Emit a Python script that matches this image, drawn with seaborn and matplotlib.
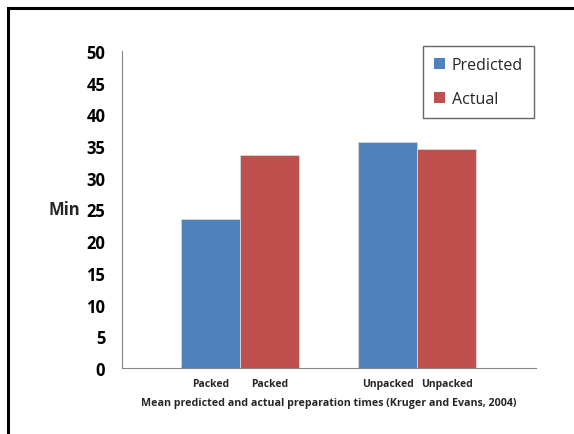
import matplotlib
matplotlib.use("Agg")
import matplotlib.pyplot as plt
import matplotlib.patches as mpatches
from matplotlib.ticker import FixedLocator, NullFormatter
import seaborn as sns
import pandas as pd

# Category slots along the x axis (empty slots leave gaps between groups)
slot_labels = ["", "Packed", "Packed", "", "Unpacked", "Unpacked", ""]
bar_slot = [1, 2, 4, 5]
series = ["Predicted", "Actual", "Predicted", "Actual"]
minutes = [23.5, 33.6, 35.6, 34.5]
y_ticks = [0, 5, 10, 15, 20, 25, 30, 35, 40, 45, 50]
palette = {"Predicted": "#4F81BD", "Actual": "#C0504D"}

df = pd.DataFrame({"slot": bar_slot, "series": series, "minutes": minutes})

sns.set_theme(style="white")
plt.rcParams["font.family"] = ["Open Sans", "DejaVu Sans"]

fig = plt.figure(figsize=(5.74, 4.35), dpi=100)
ax = fig.add_axes([122 / 574, 1 - 369 / 435, (535.5 - 122) / 574, (369 - 52) / 435])

sns.barplot(data=df, x="slot", y="minutes", hue="series", order=list(range(len(slot_labels))),
            hue_order=["Predicted", "Actual"], palette=palette, dodge=False, width=1.0,
            saturation=1, edgecolor="#d9d9d9", linewidth=0.6, ax=ax)

ax.set_xlim(-0.5, len(slot_labels) - 0.5)
ax.set_ylim(0, 50)
ax.set_yticks(y_ticks)
ax.set_yticklabels([str(v) for v in y_ticks], fontsize=12, fontweight="bold", color="black")

# Tick marks sit on the slot boundaries, labels in the slot centres
ax.xaxis.set_major_locator(FixedLocator([i - 0.5 for i in range(len(slot_labels) + 1)]))
ax.xaxis.set_major_formatter(NullFormatter())
ax.xaxis.set_minor_locator(FixedLocator(list(range(len(slot_labels)))))
ax.set_xticklabels(slot_labels, minor=True, fontsize=7.5, fontweight="bold")
ax.tick_params(axis="x", which="major", length=4, width=0.8, color="#868686", direction="out")
ax.tick_params(axis="x", which="minor", length=0, pad=7)
ax.tick_params(axis="y", length=5, width=0.8, color="#868686", direction="out", pad=7)

for side in ["top", "right"]:
    ax.spines[side].set_visible(False)
for side in ["left", "bottom"]:
    ax.spines[side].set_color("#868686")
    ax.spines[side].set_linewidth(0.8)

ax.set_xlabel("Mean predicted and actual preparation times (Kruger and Evans, 2004)",
              fontsize=7.7, fontweight="bold", labelpad=6)
ax.set_ylabel("Min", rotation=0, fontsize=12, fontweight="bold", ha="right", va="center")
ax.yaxis.set_label_coords(-0.1016, 0.5)

handles = [mpatches.Patch(facecolor=palette[k], edgecolor="none") for k in ["Predicted", "Actual"]]
leg = ax.legend(handles, ["Predicted", "Actual"], loc="upper right",
                bbox_to_anchor=(534 / 574, 1 - 47 / 435), bbox_transform=fig.transFigure,
                fontsize=11.5, frameon=True, fancybox=False, handlelength=0.7, handleheight=0.7,
                handletextpad=0.4, labelspacing=1.1, borderpad=0.7, borderaxespad=0)
leg.get_frame().set_edgecolor("#404040")
leg.get_frame().set_linewidth(1.0)

# Outer chart border (only left and top edges fall inside the image)
fig.add_artist(mpatches.Rectangle((7.5 / 574, -0.1), 1.2, 1 - 9 / 435 + 0.1,
                                  transform=fig.transFigure, fill=False,
                                  edgecolor="black", linewidth=2.2))

fig.savefig("out.png", dpi=100)
